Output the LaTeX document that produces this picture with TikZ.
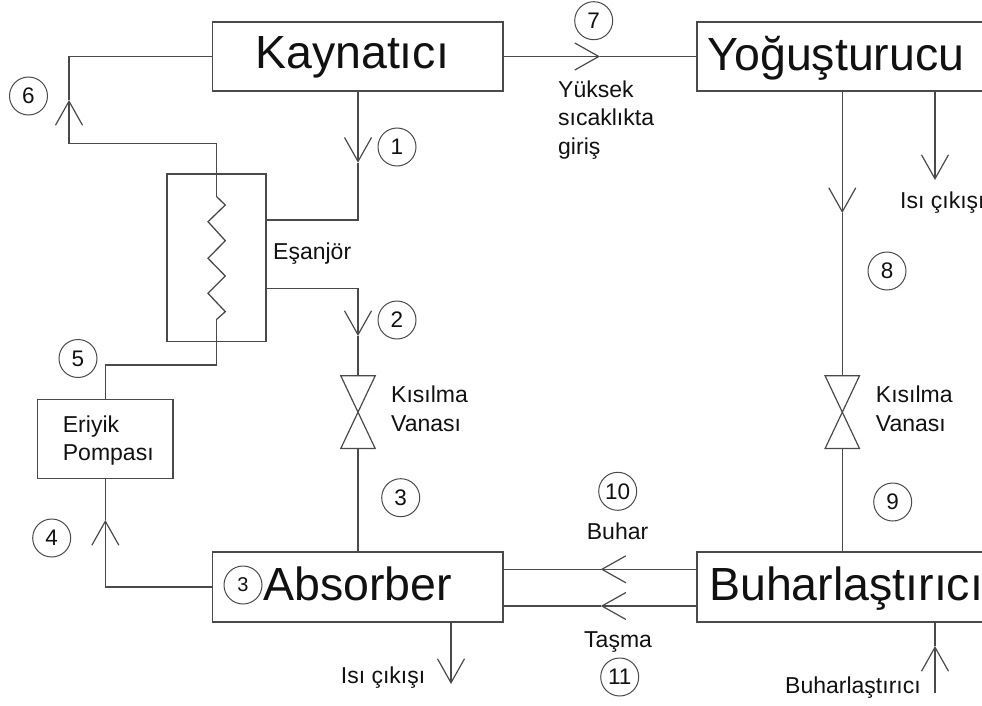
\documentclass[tikz,border=0pt]{standalone}
\usepackage{fontspec}
\setmainfont{Liberation Sans}
\usetikzlibrary{arrows.meta,calc}
\definecolor{ink}{HTML}{4A4A4A}
\definecolor{txt}{HTML}{111111}
\tikzset{
  wire/.style={draw=ink,line width=1.3pt,line join=miter},
  flow/.style={wire,-{Straight Barb[length=24pt,width=27pt,line width=1.2pt]}},
  unit/.style={draw=ink,line width=1.3pt,rectangle,inner sep=0pt},
  ghost/.style={rectangle,inner sep=0pt},
  big/.style={anchor=base west,inner sep=0pt,text=txt,font=\fontsize{46.5}{50}\selectfont},
  small/.style={anchor=base west,inner sep=0pt,text=txt,align=left,font=\fontsize{23}{28.3}\selectfont},
  num/.style={circle,draw=ink,line width=1pt,minimum size=38pt,inner sep=0pt,text=txt,font=\fontsize{22.5}{24}\selectfont},
  valve/.style={ghost,minimum width=34pt,minimum height=72.3pt},
}
\begin{document}
\begin{tikzpicture}[x=1pt,y=-1pt]
\useasboundingbox (0,0) rectangle (982,706);
\clip (0,0) rectangle (982,706);
% units
\node[unit,minimum width=290.5pt,minimum height=69pt] (kay) at (357.75,56.5) {};
\node[unit,minimum width=303pt,minimum height=69pt] (yog) at (848.5,56.5) {};
\node[unit,minimum width=290.5pt,minimum height=70pt] (abs) at (357.75,587) {};
\node[unit,minimum width=303pt,minimum height=70pt] (buh) at (848.5,587) {};
\node[unit,minimum width=99pt,minimum height=167.3pt] (hx) at (216.5,257.65) {};
\node[unit,minimum width=135.3pt,minimum height=79.4pt] (pump) at (105.35,439) {};
\node[big] (tkay) at (255,69) {Kaynatıcı};
\node[big] (tyog) at (707.3,70.5) {Yoğuşturucu};
\node[big] (tabs) at (263,600) {Absorber};
\node[big] (tbuh) at (709,600) {Buharlaştırıcı};
% valves
\node[valve] (v1) at (358,412.15) {};
\node[valve] (v2) at (842.3,412.15) {};
\foreach \v in {v1,v2}
  \draw[ink,line width=1.2pt] (\v.north west) -- (\v.south east) -- (\v.south west) -- (\v.north east) -- cycle;
% free ends and arrow tips
\coordinate (c6a) at (69,56.5);
\coordinate (t6) at (69,100);
\coordinate (c6b) at (69,143.7);
\coordinate (z0) at (216.7,196.7);
\coordinate (c6c) at (216.7,143.7);
\coordinate (z9) at (216.7,319.3);
\coordinate (c5a) at (216.7,365);
\coordinate (c5b) at (105.35,365);
\coordinate (t1) at (358,162.7);
\coordinate (c1) at (358,220);
\coordinate (c2) at (358,288.3);
\coordinate (t2) at (358,336);
\coordinate (t4) at (105.35,520);
\coordinate (c4) at (105.35,587);
\coordinate (t7) at (600,56.5);
\coordinate (t8) at (842.3,213);
\coordinate (top) at (935,180);
\coordinate (t10) at (600.7,569.3);
\coordinate (t11) at (600.7,606);
\coordinate (tabsout) at (451,684);
\coordinate (tin) at (935,646);
\coordinate (sin) at (935,693);
% exchanger coil and solution loop
\draw[wire] (z0) -- (225.3,205) -- (208,221.7) -- (225.3,240.7) -- (208,258.3) -- (225.3,276) -- (208,293.3) -- (225.3,311.7) -- (z9);
\draw[wire] (z9) -- (c5a) -- (c5b) -- (pump.north);
\draw[flow] (z0) -- (c6c) -- (c6b) -- (t6);
\draw[wire] (t6) -- (c6a) -- (kay.west);
\draw[flow] (abs.west) -- (c4) -- (t4);
\draw[wire] (t4) -- (pump.south);
% left column
\draw[flow] (t1 |- kay.south) -- (t1);
\draw[wire] (t1) -- (c1) -- (c1 -| hx.east);
\draw[flow] (c2 -| hx.east) -- (c2) -- (t2);
\draw[wire] (t2) -- (v1.north);
\draw[wire] (v1.south) -- (v1 |- abs.north);
% top connection
\draw[flow] (kay.east) -- (t7);
\draw[wire] (t7) -- (t7 -| yog.west);
% right column
\draw[flow] (t8 |- yog.south) -- (t8);
\draw[wire] (t8) -- (v2.north);
\draw[wire] (v2.south) -- (v2 |- buh.north);
\draw[flow] (top |- yog.south) -- (top);
% bottom connections
\draw[flow] (t10 -| buh.west) -- (t10);
\draw[wire] (t10) -- (t10 -| abs.east);
\draw[flow] (t11 -| buh.west) -- (t11);
\draw[wire] (t11) -- (t11 -| abs.east);
\draw[flow] (tabsout |- abs.south) -- (tabsout);
\draw[flow] (sin) -- (tin);
\draw[wire] (tin) -- (tin |- buh.south);
% numbered circles
\node[num] (n1) at (397,147) {1};
\node[num] (n2) at (397,320) {2};
\node[num] (n3) at (400.7,497.7) {3};
\node[num] (n3b) at (243,585) {\fontsize{20}{22}\selectfont 3};
\node[num] (n4) at (51.7,538) {4};
\node[num] (n5) at (78,358.5) {5};
\node[num] (n6) at (28.5,96) {6};
\node[num] (n7) at (593.7,20.7) {7};
\node[num] (n8) at (887,271) {8};
\node[num] (n9) at (892.7,502) {9};
\node[num] (n10) at (617.7,491.3) {10};
\node[num] (n11) at (619.7,677) {11};
% labels (base anchor of a multi-line node is its last line)
\node[small] (l1) at (273,259) {Eşanjör};
\node[small] (l2) at (558,154) {Yüksek\\sıcaklıkta\\giriş};
\node[small] (l3) at (900,208) {Isı çıkışı};
\node[small] (l4) at (391,431) {Kısılma\\Vanası};
\node[small] (l5) at (875.7,431) {Kısılma\\Vanası};
\node[small] (l6) at (62.7,460.7) {Eriyik\\Pompası};
\node[small] (l7) at (340.7,683) {Isı çıkışı};
\node[small] (l8) at (586.7,539.3) {Buhar};
\node[small] (l9) at (584,647.7) {Taşma};
\node[small] (l10) at (785,693.3) {Buharlaştırıcı};
\end{tikzpicture}
\end{document}
